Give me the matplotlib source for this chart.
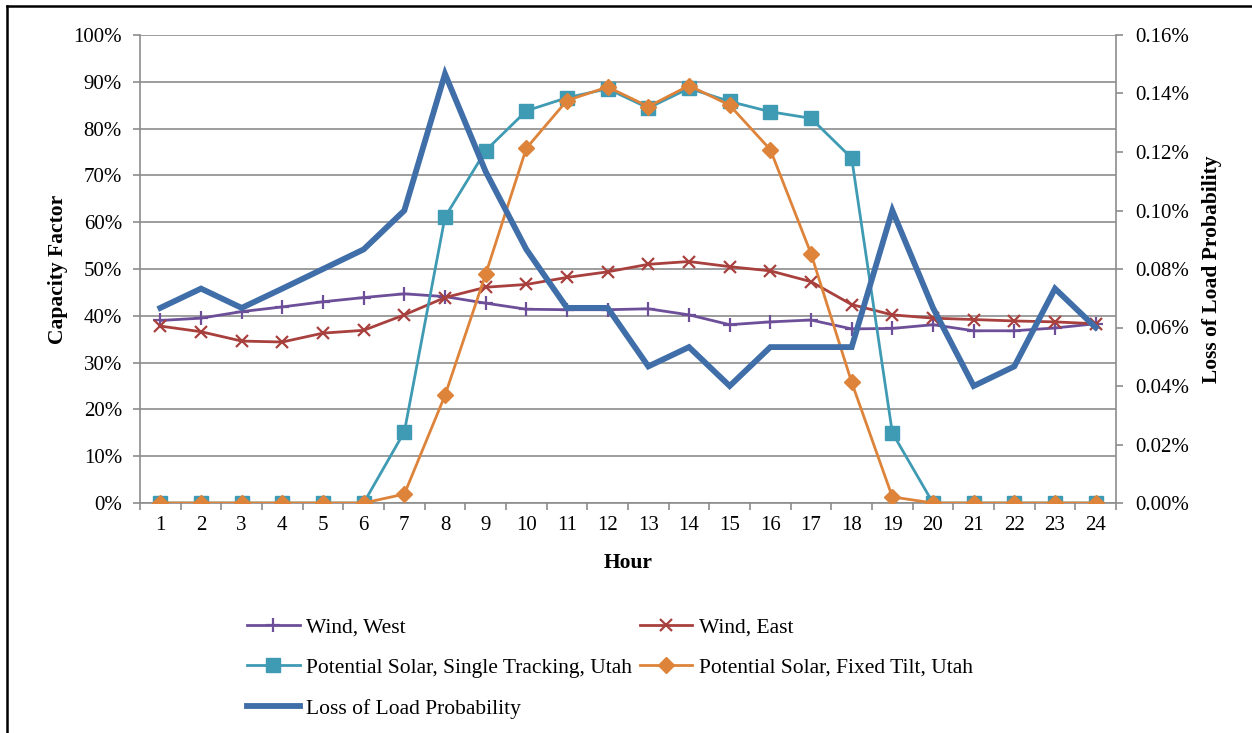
import numpy as np
import matplotlib
matplotlib.use("agg")
import matplotlib.pyplot as plt
from matplotlib.ticker import PercentFormatter, FixedLocator

hours = list(range(1, 25))

wind_west = [39.0, 39.5, 40.9, 41.9, 43.0, 43.9, 44.7, 44.1, 42.7, 41.4, 41.3, 41.3,
             41.5, 40.2, 38.1, 38.7, 39.1, 37.2, 37.3, 38.1, 36.8, 36.8, 37.4, 38.3]
wind_east = [37.8, 36.6, 34.6, 34.4, 36.3, 36.9, 40.2, 43.9, 46.1, 46.7, 48.2, 49.4,
             51.0, 51.6, 50.5, 49.6, 47.3, 42.4, 40.2, 39.5, 39.2, 38.9, 38.7, 38.3]
solar_tracking = [0, 0, 0, 0, 0, 0, 15.2, 61.1, 75.3, 83.8, 86.6, 88.5,
                  84.4, 88.6, 85.8, 83.6, 82.2, 73.7, 15.0, 0, 0, 0, 0, 0]
solar_fixed = [0, 0, 0, 0, 0, 0, 1.9, 23.0, 48.9, 75.8, 86.0, 88.9,
               84.7, 89.2, 85.0, 75.5, 53.3, 25.8, 1.3, 0, 0, 0, 0, 0]
lolp = [0.0667, 0.0733, 0.0667, 0.0733, 0.0800, 0.0867, 0.1000, 0.1467,
        0.1133, 0.0867, 0.0667, 0.0667, 0.0467, 0.0533, 0.0400, 0.0533,
        0.0533, 0.0533, 0.1000, 0.0667, 0.0400, 0.0467, 0.0733, 0.0600]

left_ticks = np.arange(0, 101, 10)
right_ticks = np.arange(0, 0.161, 0.02)

plt.rcParams["font.family"] = ["Liberation Serif", "DejaVu Serif"]
plt.rcParams["font.size"] = 15.5

fig = plt.figure(figsize=(12.52, 7.33), dpi=100)
ax = fig.add_axes([140 / 1252, 1 - 503 / 733, 976 / 1252, 468 / 733])
ax2 = ax.twinx()

grid_color = "#8c8c8c"
ax.set_xlim(0.5, 24.5)
ax.set_ylim(0, 100)
ax2.set_ylim(0, 0.16)
ax.set_yticks(left_ticks)
ax2.set_yticks(right_ticks)
ax.yaxis.set_major_formatter(PercentFormatter(decimals=0))
ax2.yaxis.set_major_formatter(PercentFormatter(decimals=2))
ax.set_xticks(hours)
ax.xaxis.set_minor_locator(FixedLocator(np.arange(0.5, 25, 1)))
ax.tick_params(axis="x", which="major", length=0, pad=9, labelsize=15)
ax.tick_params(axis="x", which="minor", length=5, color=grid_color, width=1.2)
ax.tick_params(axis="y", length=5, color=grid_color, width=1.2, pad=8, labelsize=15)
ax2.tick_params(axis="y", length=5, color=grid_color, width=1.2, pad=9, labelsize=15)
ax.grid(axis="y", color=grid_color, linewidth=1.2)
ax.set_axisbelow(True)

for a in (ax, ax2):
    for side in ("top", "left", "right"):
        a.spines[side].set_visible(False)
ax.spines["left"].set_visible(True)
ax2.spines["right"].set_visible(True)
ax.spines["left"].set_color(grid_color)
ax2.spines["right"].set_color(grid_color)
ax.spines["bottom"].set_color(grid_color)
ax2.spines["bottom"].set_visible(False)
for s in (ax.spines["left"], ax2.spines["right"], ax.spines["bottom"]):
    s.set_linewidth(1.2)

l1, = ax.plot(hours, wind_west, color="#6d4f99", lw=2, marker="+", ms=10, mew=1.6,
              label="Wind, West", zorder=3)
l2, = ax.plot(hours, wind_east, color="#a8403d", lw=2, marker="x", ms=9, mew=1.6,
              label="Wind, East", zorder=3)
l3, = ax.plot(hours, solar_tracking, color="#3f9ab3", lw=2, marker="s", ms=10,
              mec="#3f9ab3", label="Potential Solar, Single Tracking, Utah", zorder=4)
l4, = ax.plot(hours, solar_fixed, color="#dd833a", lw=2, marker="D", ms=8,
              mec="#dd833a", label="Potential Solar, Fixed Tilt, Utah", zorder=5)
l5, = ax2.plot(hours, lolp, color="#3f6ea8", lw=4.2, solid_joinstyle="miter",
               label="Loss of Load Probability", zorder=6)

ax.set_ylabel("Capacity Factor", fontweight="bold", labelpad=4)
ax.set_xlabel("Hour", fontweight="bold", labelpad=13)
ax2.set_ylabel("Loss of Load Probability", fontweight="bold", labelpad=9)

handles = [l1, l3, l5, l2, l4]
fig.legend(handles, [h.get_label() for h in handles],
           ncol=2, loc="upper left", bbox_to_anchor=(247 / 1252, 1 - 617 / 733),
           frameon=False, handlelength=2.45, handletextpad=0.3, columnspacing=0.35,
           labelspacing=0.97, borderaxespad=0, borderpad=0, fontsize=15.5)

# border of the pasted chart (top and left edges only visible)
fig.add_artist(plt.Line2D([7 / 1252, 7 / 1252], [0, 1 - 6 / 733], color="black",
                          lw=1.8, transform=fig.transFigure))
fig.add_artist(plt.Line2D([7 / 1252, 1], [1 - 6 / 733, 1 - 6 / 733], color="black",
                          lw=1.8, transform=fig.transFigure))

fig.savefig("out.png", dpi=100)
